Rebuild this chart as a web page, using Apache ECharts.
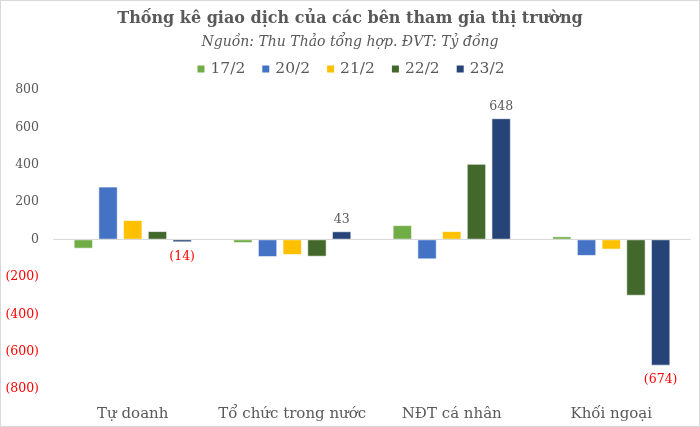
<!DOCTYPE html>
<html>
<head>
<meta charset="utf-8">
<script src="https://cdn.jsdelivr.net/npm/echarts@6/dist/echarts.min.js"></script>
<style>
  html, body { margin: 0; padding: 0; background: #fff; }
  #chart { width: 700px; height: 427px; box-sizing: border-box; border: 1px solid #d9d9d9; }
</style>
</head>
<body>
<div id="chart"></div>
<script>
let categories = ['Tự doanh', 'Tổ chức trong nước', 'NĐT cá nhân', 'Khối ngoại'];
let seriesNames = ['17/2', '20/2', '21/2', '22/2', '23/2'];
let seriesColors = ['#70AD47', '#4472C4', '#FFC000', '#43682B', '#264478'];
let values1702 = [-48, -18, 76, 16];
let values2002 = [282, -93, -105, -87];
let values2102 = [103, -82, 44, -53];
let values2202 = [44, -91, 404, -300];
let values2302 = [-14, 43, 648, -674];
let allValues = [values1702, values2002, values2102, values2202, values2302];
let labelledSeries = 4;

let fontFamily = '"DejaVu Serif", "Liberation Serif", serif';
let grey = '#595959';

function fmt(v) {
    return v < 0 ? '(' + Math.abs(v) + ')' : String(v);
}

let chart = echarts.init(document.getElementById('chart'));

let series = seriesNames.map(function (name, i) {
    return {
        name: name,
        type: 'bar',
        barWidth: 19,
        barGap: '30%',
        itemStyle: { color: seriesColors[i], borderColor: '#ffffff', borderWidth: 0.6 },
        data: allValues[i].map(function (v) {
            let item = { value: v };
            if (i === labelledSeries) {
                item.label = {
                    show: true,
                    position: v < 0 ? 'bottom' : 'top',
                    distance: v < 0 ? 8 : 5,
                    color: v < 0 ? '#FF0000' : grey,
                    fontFamily: fontFamily,
                    fontSize: 12.5,
                    formatter: function (p) { return fmt(p.value); }
                };
            }
            return item;
        })
    };
});

chart.setOption({
    animation: false,
    textStyle: { fontFamily: fontFamily },
    title: {
        text: 'Thống kê giao dịch của các bên tham gia thị trường',
        subtext: 'Nguồn: Thu Thảo tổng hợp. ĐVT: Tỷ đồng',
        left: 'center',
        top: 5,
        itemGap: 8,
        textStyle: { fontFamily: fontFamily, fontSize: 16, fontWeight: 'bold', color: grey },
        subtextStyle: { fontFamily: fontFamily, fontSize: 14, fontStyle: 'italic', color: grey }
    },
    legend: {
        top: 55,
        left: 'center',
        itemWidth: 9,
        itemHeight: 9,
        itemGap: 15,
        icon: 'rect',
        textStyle: { fontFamily: fontFamily, fontSize: 15.5, color: grey, padding: [0, 0, 0, 0] },
        data: seriesNames
    },
    grid: { left: 52, right: 8, top: 89, bottom: 37, containLabel: false },
    xAxis: {
        type: 'category',
        data: categories,
        axisLine: { show: false, onZero: false },
        axisTick: { show: false },
        axisLabel: {
            interval: 0,
            margin: 18,
            fontFamily: fontFamily,
            fontSize: 15,
            color: grey
        }
    },
    yAxis: {
        type: 'value',
        min: -800,
        max: 800,
        interval: 200,
        splitLine: { show: false },
        axisLine: { show: false },
        axisTick: { show: false },
        axisLabel: {
            margin: 14,
            fontFamily: fontFamily,
            fontSize: 12.5,
            formatter: fmt,
            color: function (v) { return Number(v) < 0 ? '#FF0000' : grey; }
        }
    },
    series: series.concat([{
        type: 'line',
        data: [],
        markLine: {
            silent: true,
            symbol: 'none',
            label: { show: false },
            lineStyle: { color: '#d9d9d9', type: 'solid', width: 1 },
            data: [{ yAxis: 0 }]
        }
    }])
});
</script>
</body>
</html>
